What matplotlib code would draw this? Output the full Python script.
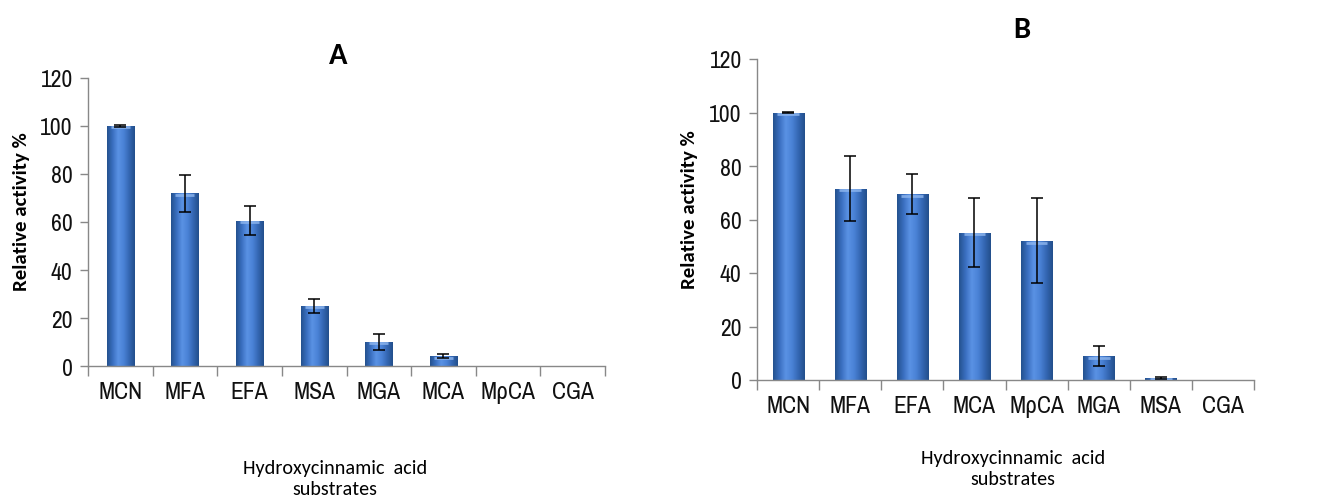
import matplotlib
matplotlib.use("Agg")
import matplotlib.pyplot as plt
import numpy as np
from matplotlib.colors import LinearSegmentedColormap

# ---- data ----
cats_a = ["MCN", "MFA", "EFA", "MSA", "MGA", "MCA", "MρCA", "CGA"]
vals_a = [100, 72, 60.5, 25, 10, 4, 0, 0]
errs_a = [0.3, 7.7, 6.0, 3.0, 3.5, 0.8, 0, 0]

cats_b = ["MCN", "MFA", "EFA", "MCA", "MρCA", "MGA", "MSA", "CGA"]
vals_b = [100, 71.5, 69.5, 55, 52, 9, 0.8, 0]
errs_b = [0.3, 12.2, 7.5, 12.9, 15.9, 3.7, 0.3, 0]

yticks = [0, 20, 40, 60, 80, 100, 120]
title_a, title_b = "A", "B"
ylabel = "Relative activity %"
xlabel = "Hydroxycinnamic  acid\nsubstrates"

W, H = 1333, 502
fig = plt.figure(figsize=(W / 100, H / 100), dpi=100)

cmap = LinearSegmentedColormap.from_list(
    "cyl", ["#24528f", "#3a6fc0", "#5a92e4", "#4a82d6", "#3467b3", "#234f8c"])

tick_font = ["Liberation Sans Narrow", "Archivo Narrow", "PT Sans Narrow",
             "Roboto Condensed", "DejaVu Sans"]
cal_font = ["Carlito", "Open Sans", "DejaVu Sans"]


def panel(rect, cats, vals, errs, width):
    ax = fig.add_axes(rect)
    x = np.arange(len(cats))
    bars = ax.bar(x, vals, width=width, color="#3a6fc0", edgecolor="none", zorder=2)
    grad = np.linspace(0, 1, 64).reshape(1, -1)
    for b in bars:
        if b.get_height() <= 0:
            continue
        x0, y0 = b.get_x(), b.get_y()
        im = ax.imshow(grad, cmap=cmap, aspect="auto", zorder=2.5,
                       extent=[x0, x0 + b.get_width(), y0, y0 + b.get_height()])
        im.set_clip_path(b)
        ax.plot([x0 + b.get_width() * 0.15, x0 + b.get_width() * 0.85],
                [b.get_height() - 0.6, b.get_height() - 0.6],
                color="#8fb7ef", lw=2, alpha=0.8, zorder=2.6, solid_capstyle="butt")
    for xi, v, e in zip(x, vals, errs):
        if v > 0:
            ax.errorbar(xi, v, yerr=e, fmt="none", ecolor="black", elinewidth=1.1,
                        capsize=4, capthick=1.1, zorder=3)
    ax.set_xlim(-0.5, len(cats) - 0.5)
    ax.set_ylim(0, 120)
    ax.set_yticks(yticks)
    ax.set_yticklabels([str(t) for t in yticks], family=tick_font, fontsize=17,
                       color="#111111")
    ax.set_xticks(x)
    ax.set_xticklabels(cats, family=tick_font, fontsize=17, color="#111111")
    ax.set_xticks(np.arange(len(cats) + 1) - 0.5, minor=True)
    ax.tick_params(axis="x", which="major", length=0, pad=11)
    ax.tick_params(axis="x", which="minor", length=7, color="#888888", width=1)
    ax.tick_params(axis="y", length=6, color="#888888", width=1, pad=5)
    for s in ["top", "right"]:
        ax.spines[s].set_visible(False)
    for s in ["left", "bottom"]:
        ax.spines[s].set_color("#888888")
        ax.spines[s].set_linewidth(1)
    ax.set_facecolor("white")
    return ax


def fx(px):
    return px / W


def fy(py):
    return 1 - py / H


axA = panel([fx(88), fy(367), fx(605 - 88), (367 - 79) / H], cats_a, vals_a, errs_a, 0.42)
axB = panel([fx(757), fy(381), fx(1254 - 757), (381 - 60) / H], cats_b, vals_b, errs_b, 0.5)

fig.text(fx(338), fy(56), title_a, ha="center", va="center", fontsize=22,
         fontweight="bold", family=cal_font)
fig.text(fx(1022), fy(30), title_b, ha="center", va="center", fontsize=22,
         fontweight="bold", family=cal_font)

fig.text(fx(22), fy(212), ylabel, rotation=90, ha="center", va="center",
         fontsize=15, fontweight="bold", family=cal_font)
fig.text(fx(690), fy(210), ylabel, rotation=90, ha="center", va="center",
         fontsize=15, fontweight="bold", family=cal_font)

fig.text(fx(335), fy(479), xlabel, ha="center", va="center", fontsize=14.5,
         family=cal_font, linespacing=1.3)
fig.text(fx(1013), fy(469), xlabel, ha="center", va="center", fontsize=14.5,
         family=cal_font, linespacing=1.3)

fig.savefig("out.png", dpi=100, facecolor="white")
